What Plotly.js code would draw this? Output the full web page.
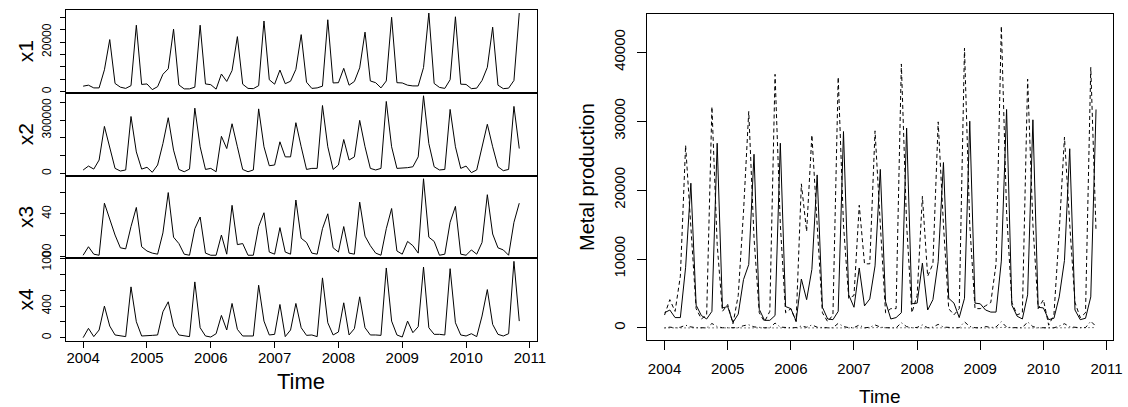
<!DOCTYPE html>
<html><head><meta charset="utf-8">
<script src="https://cdn.plot.ly/plotly-3.0.1.min.js"></script>
<style>html,body{margin:0;padding:0;background:#fff}#chart{width:1128px;height:407px}</style>
</head><body><div id="chart"></div>
<script>
// Monthly series, Jan 2004 .. Nov 2010
const startYear = 2004;
const x1 = [2200,2600,1500,1500,8800,21000,3300,1800,1300,2400,26800,2900,
            3100,800,2000,7000,9200,25200,2700,1100,1100,1800,26800,3100,
            2800,1000,7100,4100,8500,22200,3000,1300,1200,2400,28500,4800,
            3000,8700,3200,4200,9000,23000,3800,1300,1500,2200,29000,3500,
            3600,9400,2600,4100,9600,24000,4300,3600,1500,4300,30000,3600,
            3500,2600,2300,2300,9700,31700,3300,1700,1300,4800,30200,3000,
            2900,1200,1400,4500,9800,26000,2600,1200,1400,4500,31700];
const x2 = [18700,41000,24000,75000,265000,150000,28000,13000,19000,321000,121000,24000,
            34000,6000,47000,168000,314000,131000,22000,9000,24000,368000,150000,22000,
            28000,9000,209000,140000,280000,150000,22000,9000,19000,364000,150000,43000,
            47000,178000,93000,93000,286000,150000,22000,28000,28000,383000,150000,22000,
            47000,191000,75000,93000,299000,150000,28000,19000,28000,406000,150000,28000,
            28000,32000,37000,93000,438000,168000,37000,19000,22000,361000,150000,28000,
            41000,4000,19000,140000,277000,150000,37000,15000,22000,378000,140000];
const x3 = [1,9,2,1,50,34,20,8,7,28,46,9,
            5,3,2,22,60,18,12,2,1,26,37,3,
            1,1,20,2,48,11,12,1,1,28,41,4,
            2,27,4,2,53,17,13,3,2,26,40,8,
            4,28,3,2,51,19,10,3,1,26,45,5,
            2,14,10,3,73,18,14,1,2,32,47,2,
            1,6,2,13,58,21,8,6,1,32,50];
const x4 = [0,118,13,97,400,147,34,21,13,644,202,21,
            21,29,34,328,455,147,34,21,13,707,126,21,
            8,50,282,97,434,105,21,21,21,665,210,34,
            42,421,13,97,434,126,29,34,13,758,189,34,
            72,442,34,114,518,126,34,34,29,884,210,34,
            8,210,63,139,896,126,42,42,34,875,189,34,
            21,50,13,274,610,168,42,21,50,968,210];
const yearTicks = [2004,2005,2006,2007,2008,2009,2010,2011];
const seriesNames = ['x1','x2','x3','x4'];
const rightTicks = [0, 10000, 20000, 30000, 40000];
const scaleX2 = 10;

const t = x1.map((_, i) => startYear + i / 12);
const tmin = t[0], tmax = t[t.length - 1];
const xr = [tmin - 0.04 * (tmax - tmin), tmax + 0.04 * (tmax - tmin)];
function rng(arrs) {
  let lo = Infinity, hi = -Infinity;
  arrs.forEach(a => a.forEach(v => { lo = Math.min(lo, v); hi = Math.max(hi, v); }));
  const d = hi - lo; return [lo - 0.04 * d, hi + 0.04 * d];
}
const W = 1128, H = 407;
const px = v => v / W, py = v => 1 - v / H;
const FONT = 'Liberation Sans, Arial, Helvetica, sans-serif';
const line = {color: '#000', width: 1};

const panelTops = [10, 92.7, 175.7, 258.3, 340.7];
const leftX = [px(65.7), px(536.7)];
const leftTicks = [
  {vals: [0,5000,10000,15000,20000,25000,30000], text: ['0','','','','20000','','']},
  {vals: [0,100000,200000,300000,400000], text: ['0','','','300000','']},
  {vals: [0,20,40,60], text: ['0','','40','']},
  {vals: [0,200,400,600,800,1000], text: ['0','','400','','','1000']}
];
const data = [];
const layout = {
  width: W, height: H, margin: {l: 0, r: 0, t: 0, b: 0},
  paper_bgcolor: '#fff', plot_bgcolor: '#fff', showlegend: false,
  font: {family: FONT, color: '#000'}, annotations: []
};
const allS = [x1, x2, x3, x4];
allS.forEach((s, k) => {
  const n = k + 1;
  const xa = 'x' + (n === 1 ? '' : n), ya = 'y' + (n === 1 ? '' : n);
  data.push({x: t, y: s, type: 'scatter', mode: 'lines', line: line, xaxis: xa, yaxis: ya, hoverinfo: 'skip'});
  const last = (k === 3);
  layout['xaxis' + (n === 1 ? '' : n)] = {
    domain: leftX, range: xr, anchor: ya, showgrid: false, zeroline: false,
    showline: true, mirror: true, linecolor: '#000', linewidth: 1,
    ticks: last ? 'outside' : '', ticklen: 6, tickcolor: '#000', tickwidth: 1,
    tickvals: yearTicks, showticklabels: last, tickfont: {size: 15, family: FONT},
    ticklabelstandoff: -3
  };
  layout['yaxis' + (n === 1 ? '' : n)] = {
    domain: [py(panelTops[k + 1]), py(panelTops[k])], range: rng([s]), anchor: xa,
    showgrid: false, zeroline: false, showline: true, mirror: true, linecolor: '#000', linewidth: 1,
    ticks: 'outside', ticklen: 5, tickcolor: '#000', tickwidth: 1,
    tickvals: leftTicks[k].vals, ticktext: leftTicks[k].text, tickangle: -90,
    tickfont: {size: 12, family: FONT}, ticklabelstandoff: 4
  };
  layout.annotations.push({text: seriesNames[k], xref: 'paper', yref: 'paper', x: px(25),
    y: py((panelTops[k] + panelTops[k + 1]) / 2), showarrow: false, textangle: -90,
    xanchor: 'center', yanchor: 'middle', font: {size: 21, family: FONT}});
});
// right panel
const x2s = x2.map(v => v / scaleX2);
const dashes = ['solid', '4px,3px', '1px,3px', '1px,3px,4px,3px'];
[x1, x2s, x3, x4].forEach((s, k) => {
  data.push({x: t, y: s, type: 'scatter', mode: 'lines', line: {color: '#000', width: 1, dash: dashes[k]},
    xaxis: 'x5', yaxis: 'y5', hoverinfo: 'skip'});
});
layout.xaxis5 = {domain: [px(647.3), px(1113.3)], range: xr, anchor: 'y5', showgrid: false, zeroline: false,
  showline: true, mirror: true, linecolor: '#000', linewidth: 1,
  ticks: 'outside', ticklen: 9, tickcolor: '#000', tickwidth: 1, tickvals: yearTicks,
  tickfont: {size: 15, family: FONT}, ticklabelstandoff: 6};
layout.yaxis5 = {domain: [py(340), py(14)], range: rng([x1, x2s, x3, x4]), anchor: 'x5',
  showgrid: false, zeroline: false, showline: true, mirror: true, linecolor: '#000', linewidth: 1,
  ticks: 'outside', ticklen: 9, tickcolor: '#000', tickwidth: 1,
  tickvals: rightTicks, ticktext: rightTicks.map(String), tickangle: -90,
  tickfont: {size: 15, family: FONT}, ticklabelstandoff: 6};
layout.annotations.push(
  {text: 'Time', xref: 'paper', yref: 'paper', x: px(301.2), y: py(381), showarrow: false,
   xanchor: 'center', yanchor: 'middle', borderpad: 0, font: {size: 22, family: FONT}},
  {text: 'Time', xref: 'paper', yref: 'paper', x: px(880.3), y: py(396), showarrow: false,
   xanchor: 'center', yanchor: 'middle', borderpad: 0, font: {size: 19, family: FONT}},
  {text: 'Metal production', xref: 'paper', yref: 'paper', x: px(587), y: py(177), showarrow: false,
   textangle: -90, xanchor: 'center', yanchor: 'middle', font: {size: 20, family: FONT}}
);
Plotly.newPlot('chart', data, layout, {displayModeBar: false, staticPlot: true});
</script>
</body></html>
